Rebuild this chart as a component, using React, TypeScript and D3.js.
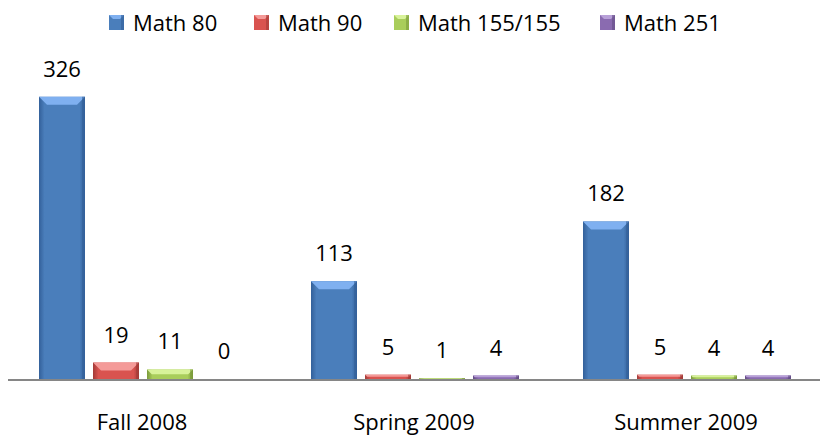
import React from 'react';
import * as d3 from 'd3';

const categories = ['Fall 2008', 'Spring 2009', 'Summer 2009'];
const seriesNames = ['Math 80', 'Math 90', 'Math 155/155', 'Math 251'];
const math80 = [326, 113, 182];
const math90 = [19, 5, 5];
const math155 = [11, 1, 4];
const math251 = [0, 4, 4];
const seriesValues = [math80, math90, math155, math251];

const colors = [
  { base: '#4a7ebb', light: '#7fb0f0', dark: '#33609a' },
  { base: '#d9534f', light: '#f49a98', dark: '#a23a37' },
  { base: '#a9cd5b', light: '#d8f29a', dark: '#7a9a3a' },
  { base: '#8a6bb0', light: '#b8a0d8', dark: '#644c86' },
];

const width = 820;
const height = 437;
const font = '"Open Sans", sans-serif';

const App = () => {
  const x0 = d3.scaleBand<string>().domain(categories).range([6, 822]);
  const x1 = d3
    .scaleBand<number>()
    .domain(d3.range(seriesNames.length))
    .range([33, 33 + 54 * 3 + 46])
    .paddingInner(8 / 54);
  const y = d3.scaleLinear().domain([0, 350]).range([379, 76]);

  const legendText = [133, 278, 418, 624];

  return (
    <svg width={width} height={height} style={{ position: 'absolute', left: 0, top: 0 }}>
      <defs>
        {colors.map((c, i) => (
          <linearGradient key={i} id={`g${i}`} x1="0" x2="1" y1="0" y2="0">
            <stop offset="0" stopColor={c.dark} />
            <stop offset="0.12" stopColor={c.base} />
            <stop offset="0.5" stopColor={c.base} />
            <stop offset="0.88" stopColor={c.base} />
            <stop offset="1" stopColor={c.dark} />
          </linearGradient>
        ))}
      </defs>
      <rect width={width} height={height} fill="#fff" />

      {categories.map((cat, ci) => (
        <g key={cat} transform={`translate(${x0(cat)},0)`}>
          {seriesValues.map((vals, si) => {
            const v = vals[ci];
            const bx = x1(si)!;
            const bw = x1.bandwidth();
            const top = y(v);
            const h = y(0) - top;
            const bev = Math.min(8, h / 2);
            const c = colors[si];
            return (
              <g key={si}>
                {h > 0 && (
                  <>
                    <rect x={bx} y={top} width={bw} height={h} fill={`url(#g${si})`} />
                    <path
                      d={`M${bx},${top}L${bx + bw},${top}L${bx + bw - bev},${top + bev}L${bx + bev},${top + bev}Z`}
                      fill={c.light}
                    />
                    <rect x={bx + bw - 3} y={top} width={3} height={h} fill={c.dark} opacity={0.6} />
                  </>
                )}
                <text
                  x={bx + bw / 2}
                  y={top - 20}
                  textAnchor="middle"
                  fontFamily={font}
                  fontSize={22}
                  fill="#000"
                >
                  {v}
                </text>
              </g>
            );
          })}
          <text
            x={x0.bandwidth() / 2}
            y={430}
            textAnchor="middle"
            fontFamily={font}
            fontSize={22}
            fill="#000"
          >
            {cat}
          </text>
        </g>
      ))}

      <line x1={8} x2={820} y1={y(0) + 1} y2={y(0) + 1} stroke="#868686" strokeWidth={2} />

      {seriesNames.map((name, i) => (
        <g key={name} transform={`translate(${legendText[i] - 24},15)`}>
          <rect width={15} height={15} fill={colors[i].base} />
          <path d="M0,0L15,0L11,4L4,4Z" fill={colors[i].light} />
          <rect x={12} width={3} height={15} fill={colors[i].dark} opacity={0.6} />
          <text x={24} y={16} fontFamily={font} fontSize={22} fill="#000">
            {name}
          </text>
        </g>
      ))}
    </svg>
  );
};

export default App;
